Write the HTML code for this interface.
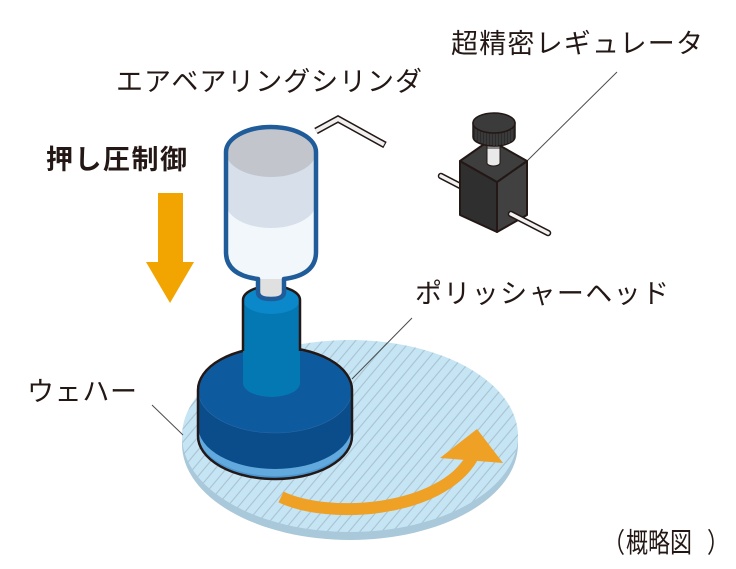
<!DOCTYPE html>
<html><head><meta charset="utf-8"><style>
html,body{margin:0;padding:0;background:#fff;}
svg{display:block;}
text{font-family:"Liberation Sans","Noto Sans CJK JP",sans-serif;fill:#231815;}
</style></head><body>
<svg width="736" height="569" viewBox="0 0 736 569" xmlns="http://www.w3.org/2000/svg">
<defs>
<pattern id="hatch" width="8.4" height="20" patternUnits="userSpaceOnUse" patternTransform="rotate(40)">
<rect width="8.4" height="20" fill="#c5e5f5"/>
<line x1="4.2" y1="0" x2="4.2" y2="20" stroke="#a4b9c7" stroke-width="0.9"/>
</pattern>
</defs>

<!-- labels -->
<text x="451" y="53" font-size="27" textLength="252" lengthAdjust="spacing">超精密レギュレータ</text>
<text x="116" y="91" font-size="27" textLength="306" lengthAdjust="spacing">エアベアリングシリンダ</text>
<text x="46" y="169" font-size="27" font-weight="bold" textLength="141" lengthAdjust="spacing">押し圧制御</text>
<text x="415" y="303" font-size="27" textLength="254" lengthAdjust="spacing">ポリッシャーヘッド</text>
<text x="27" y="401" font-size="27" textLength="110" lengthAdjust="spacing">ウェハー</text>
<g transform="scale(0.8,1)">
<text x="753.75 782.5 810 837.5 883.75" y="552" font-size="27.5">（概略図）</text>
</g>

<!-- down arrow -->
<polygon points="158,193 183,193 183,262 194,262 170,303 146,262 158,262" fill="#f2a400"/>

<!-- wafer -->
<ellipse cx="350" cy="444" rx="168" ry="96" fill="#a9c8da"/>
<ellipse cx="350" cy="436" rx="168" ry="96" fill="url(#hatch)"/>

<!-- rotation arrow -->
<path d="M281,497 C330,520 440,512 472,458" fill="none" stroke="#efa126" stroke-width="12"/>
<polygon points="440,458 477,429 503,463" fill="#efa126"/>

<!-- polisher head disc -->
<path d="M198,390 A77,43 0 0 1 352,390 L352,436 A77,43 0 0 1 198,436 Z" fill="#0b4d8b"/>
<path d="M198,426 A77,43 0 0 0 352,426 L352,436 A77,43 0 0 1 198,436 Z" fill="#62aade"/>
<path d="M198,433 A77,43 0 0 0 352,433 L352,436 A77,43 0 0 1 198,436 Z" fill="#4b96d0"/>
<ellipse cx="275" cy="390" rx="77" ry="43" fill="#0e5a9f"/>
<path d="M198,390 A77,43 0 0 0 352,390" fill="none" stroke="#2a6aa8" stroke-width="0.6"/>
<path d="M198,390 A77,43 0 0 1 352,390 L352,436 A77,43 0 0 1 198,436 Z" fill="none" stroke="#231815" stroke-width="2.5"/>

<!-- leader lines -->
<line x1="617" y1="72" x2="527" y2="161" stroke="#4d4d4d" stroke-width="1"/>
<line x1="412" y1="318" x2="352" y2="379" stroke="#4d4d4d" stroke-width="1"/>
<line x1="152" y1="405" x2="183" y2="435" stroke="#4d4d4d" stroke-width="1"/>

<!-- shaft -->
<path d="M243,300 L243,383 A28.5,14 0 0 0 300,383 L300,300 Z" fill="#0478b3"/>
<ellipse cx="271.5" cy="300" rx="28.5" ry="14" fill="#0a88c9"/>
<path d="M243,351 L243,300 A28.5,14 0 0 1 300,300 L300,351" fill="none" stroke="#231815" stroke-width="2.5"/>

<!-- neck -->
<path d="M258,268 L258,292 Q258,299 271,299 Q284,299 284,292 L284,268 Z" fill="#e0e0e0"/>

<!-- air bearing cylinder -->
<path d="M258,279 Q226,275 226,252 L226,152 A45,25 0 0 1 316,152 L316,252 Q316,275 284,279 Z" fill="#f2f7fb"/>
<path d="M226,152 L226,203 A45,25 0 0 0 316,203 L316,152 Z" fill="#d7dfea"/>
<ellipse cx="271" cy="152" rx="45" ry="25" fill="#c2c6cc"/>
<path d="M258,279 Q226,275 226,252 L226,152 A45,25 0 0 1 316,152 L316,252 Q316,275 284,279 L284,292 Q284,299 271,299 Q258,299 258,292 Z" fill="none" stroke="#1f5c99" stroke-width="4.5" stroke-linejoin="round"/>

<!-- cylinder pipe -->
<polyline points="316,131 338,119 385,145" fill="none" stroke="#231815" stroke-width="7"/>
<polyline points="316,131 338,119 384,144.5" fill="none" stroke="#f0f0f0" stroke-width="4"/>

<!-- regulator: back pipe -->
<line x1="441" y1="176" x2="470" y2="191" stroke="#231815" stroke-width="6.5" stroke-linecap="round"/>
<line x1="441" y1="176" x2="470" y2="191" stroke="#f2f2f2" stroke-width="3.5" stroke-linecap="round"/>

<!-- cube -->
<polygon points="460,161 497,182 497,232 460,215" fill="#2f2f2f" stroke="#231815" stroke-width="2" stroke-linejoin="round"/>
<polygon points="497,182 527,161 527,215 497,232" fill="#414141" stroke="#231815" stroke-width="2" stroke-linejoin="round"/>
<polygon points="460,161 490,140 527,161 497,182" fill="#3e3e3e" stroke="#231815" stroke-width="2" stroke-linejoin="round"/>

<!-- front pipe -->
<line x1="511" y1="214" x2="548" y2="233" stroke="#231815" stroke-width="6.5" stroke-linecap="round"/>
<line x1="511" y1="214" x2="548" y2="233" stroke="#f2f2f2" stroke-width="3.5" stroke-linecap="round"/>

<!-- stem -->
<path d="M487,140 L487,163 A6.5,3 0 0 0 500,163 L500,140 Z" fill="#e9e9e9" stroke="#231815" stroke-width="1"/>
<rect x="487.5" y="140" width="12" height="9" fill="#8a8a8a"/>

<!-- knob -->
<path d="M473,123 L473,137 A21,9 0 0 0 515,137 L515,123 Z" fill="#2c2c2c" stroke="#231815" stroke-width="1.5"/>
<g stroke="#505050" stroke-width="0.8">
<line x1="476" y1="129" x2="476" y2="140"/>
<line x1="479" y1="130" x2="479" y2="142"/>
<line x1="482" y1="131" x2="482" y2="143"/>
<line x1="485" y1="132" x2="485" y2="144"/>
<line x1="488" y1="132" x2="488" y2="145"/>
<line x1="491" y1="133" x2="491" y2="145"/>
<line x1="494" y1="133" x2="494" y2="146"/>
<line x1="497" y1="133" x2="497" y2="146"/>
<line x1="500" y1="133" x2="500" y2="145"/>
<line x1="503" y1="132" x2="503" y2="145"/>
<line x1="506" y1="132" x2="506" y2="144"/>
<line x1="509" y1="131" x2="509" y2="143"/>
<line x1="512" y1="129" x2="512" y2="141"/>
</g>
<ellipse cx="494" cy="123" rx="21" ry="10" fill="#3b3b3b" stroke="#231815" stroke-width="1.5"/>
</svg>
</body></html>
